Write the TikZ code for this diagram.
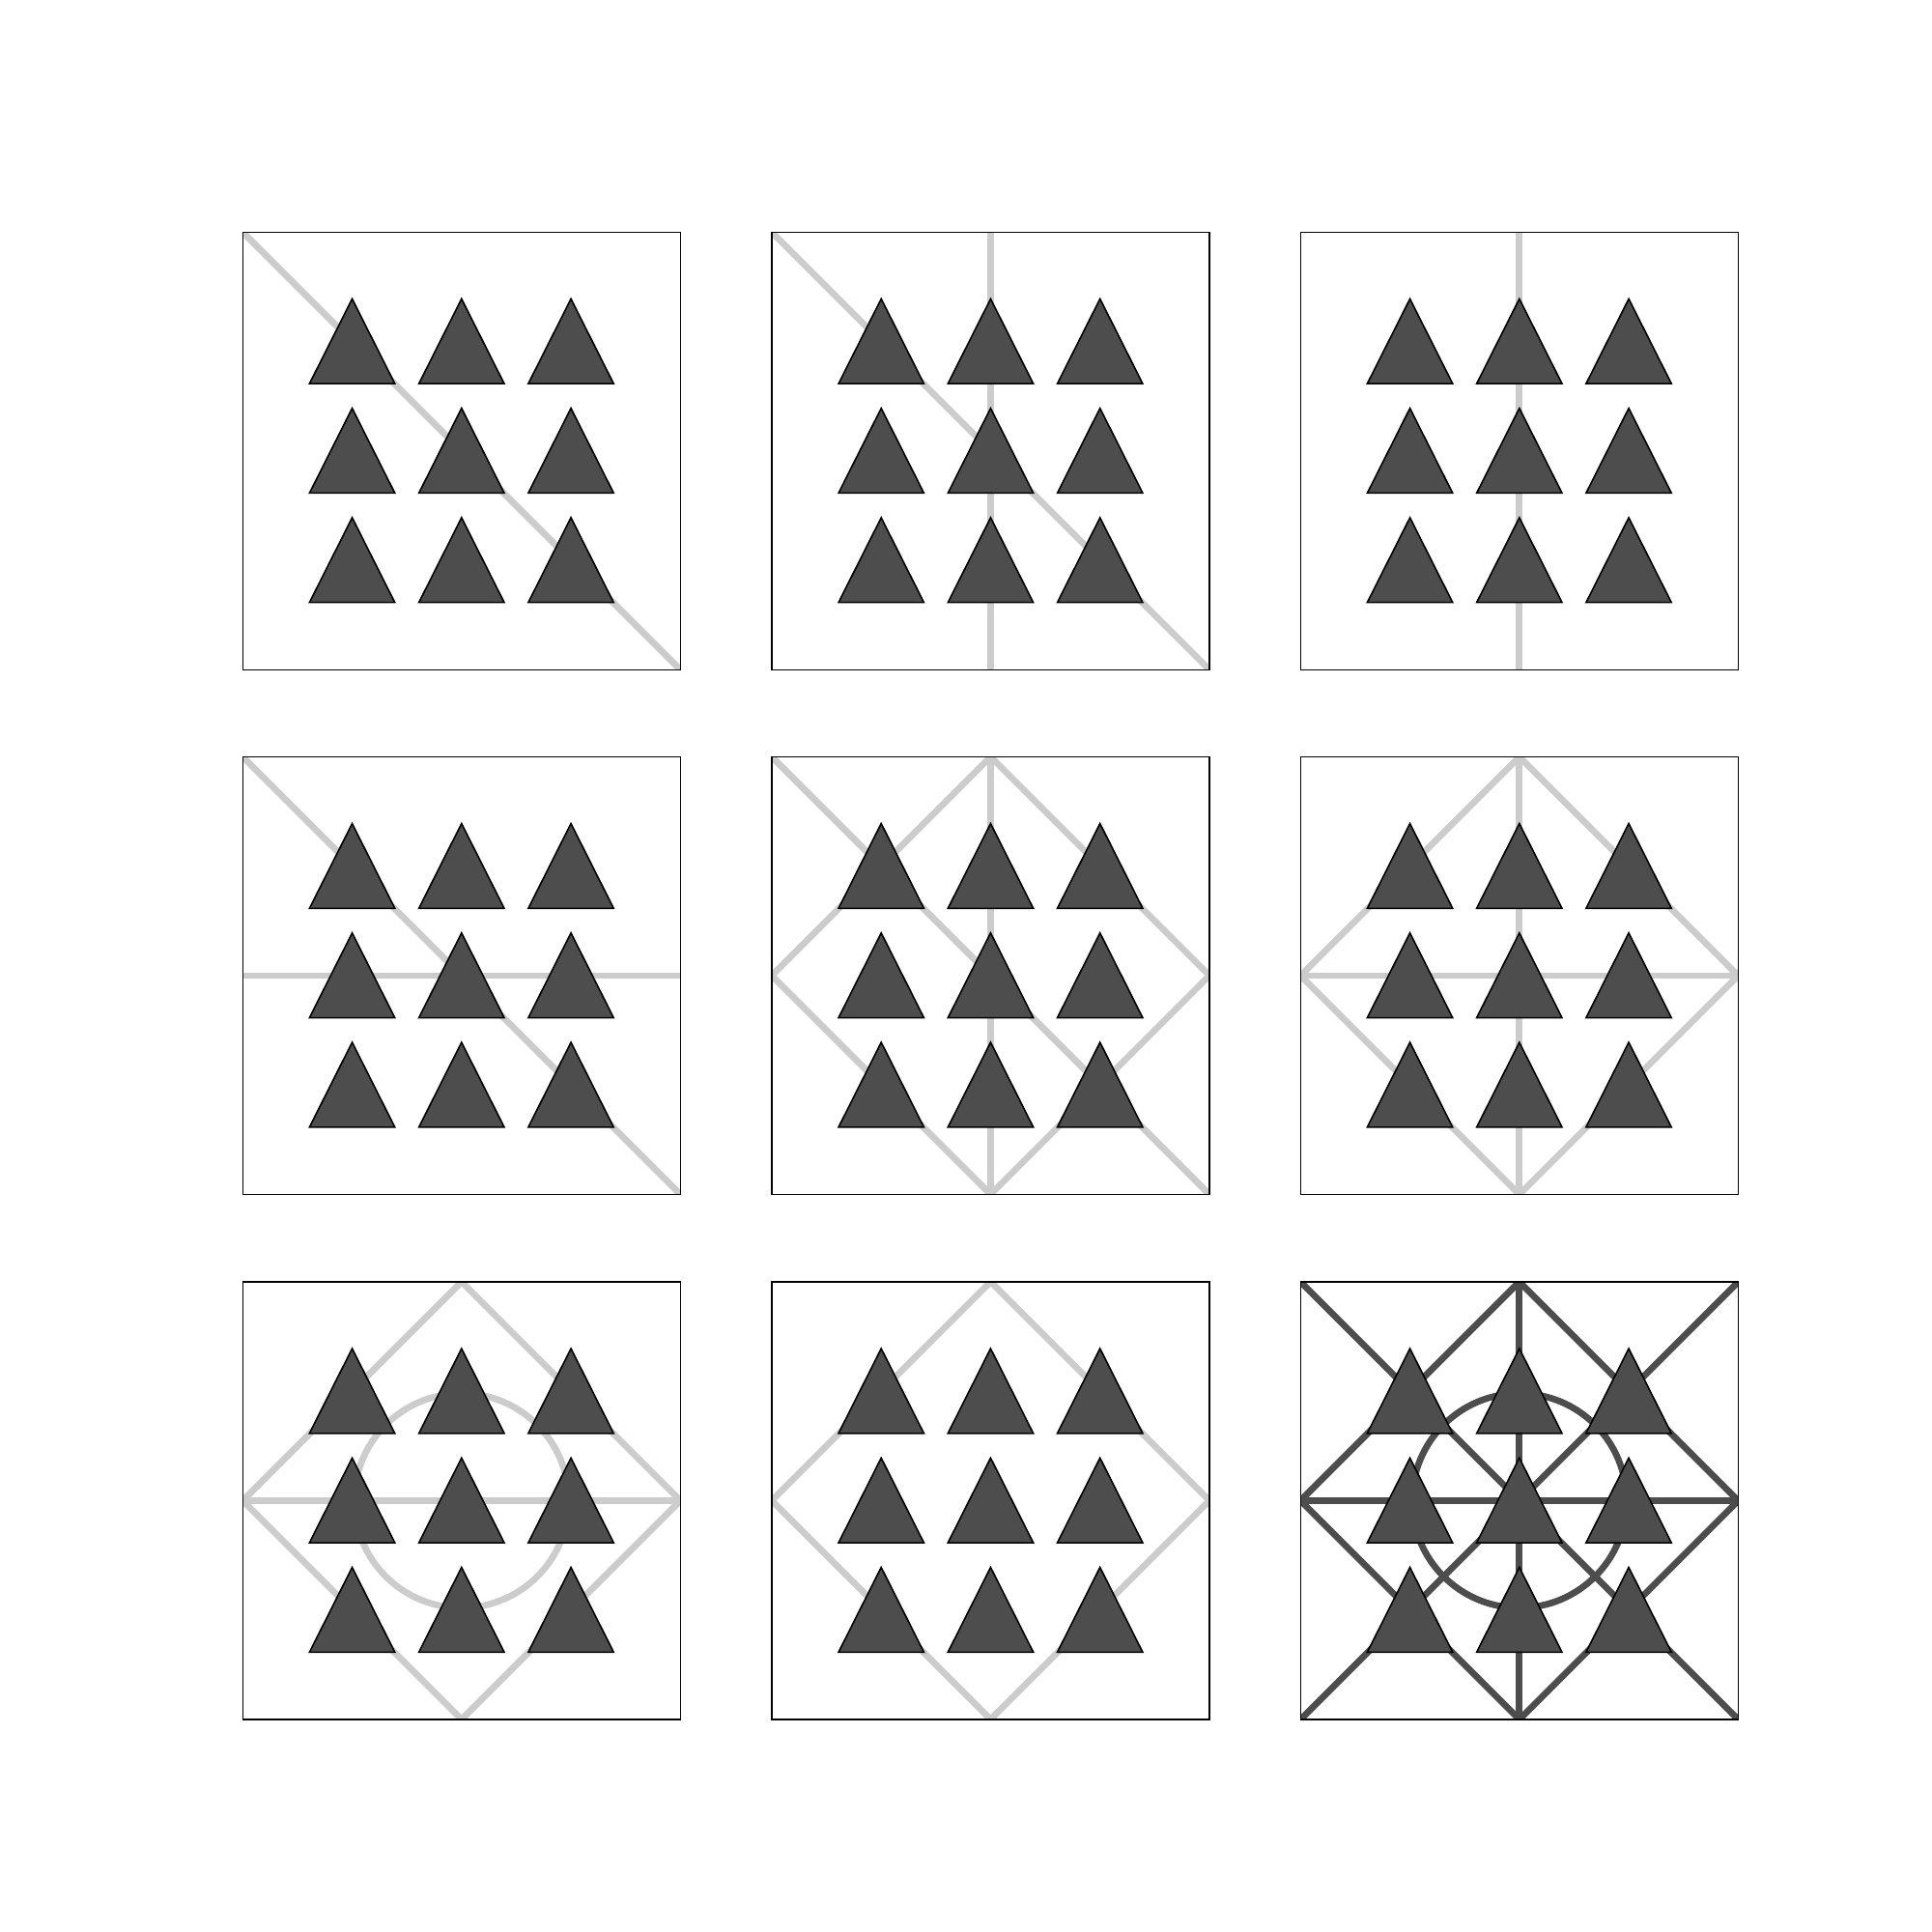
\documentclass[tikz,border=0pt]{standalone}
\usepackage{xcolor}
\definecolor{lightline}{HTML}{CCCCCC}
\definecolor{darkline}{HTML}{4D4D4D}
\tikzset{
  frame/.style={draw=black, line width=0.4pt},
  guide/.style={draw=lightline, line width=1.7pt},
  guidedark/.style={draw=darkline, line width=1.7pt},
  tri/.style={fill=darkline, draw=black, line width=0.4pt},
}
\begin{document}
\begin{tikzpicture}%
\useasboundingbox (0,0) rectangle (17.66,17.66);
% panel parts, local coordinates 0..4
\def\pdiag#1{\draw[#1] (0,4) -- (4,0);}
\def\panti#1{\draw[#1] (0,0) -- (4,4);}
\def\pvert#1{\draw[#1] (2,0) -- (2,4);}
\def\phoriz#1{\draw[#1] (0,2) -- (4,2);}
\def\pdiamond#1{\draw[#1] (2,0) -- (4,2) -- (2,4) -- (0,2) -- cycle;}
\def\pcircle#1{\draw[#1] (2,2) circle (0.98);}
\def\ptris{\foreach \i in {1,2,3} {\foreach \j in {1,2,3} {%
  \draw[tri] (\i-0.39,\j-0.385) -- (\i,\j+0.39) -- (\i+0.39,\j-0.385) -- cycle;}}}
\def\pframe{\draw[frame] (0,0) rectangle (4,4);}
% row 1
\begin{scope}[shift={(2.219,11.538)}]
 \begin{scope}\clip (0,0) rectangle (4,4);
  \pdiag{guide}
 \end{scope}
 \ptris \pframe
\end{scope}
\begin{scope}[shift={(7.055,11.538)}]
 \begin{scope}\clip (0,0) rectangle (4,4);
  \pdiag{guide} \pvert{guide}
 \end{scope}
 \ptris \pframe
\end{scope}
\begin{scope}[shift={(11.888,11.538)}]
 \begin{scope}\clip (0,0) rectangle (4,4);
  \pvert{guide}
 \end{scope}
 \ptris \pframe
\end{scope}
% row 2
\begin{scope}[shift={(2.219,6.742)}]
 \begin{scope}\clip (0,0) rectangle (4,4);
  \pdiag{guide} \phoriz{guide}
 \end{scope}
 \ptris \pframe
\end{scope}
\begin{scope}[shift={(7.055,6.742)}]
 \begin{scope}\clip (0,0) rectangle (4,4);
  \pdiag{guide} \pvert{guide} \pdiamond{guide}
 \end{scope}
 \ptris \pframe
\end{scope}
\begin{scope}[shift={(11.888,6.742)}]
 \begin{scope}\clip (0,0) rectangle (4,4);
  \pvert{guide} \phoriz{guide} \pdiamond{guide}
 \end{scope}
 \ptris \pframe
\end{scope}
% row 3
\begin{scope}[shift={(2.219,1.943)}]
 \begin{scope}\clip (0,0) rectangle (4,4);
  \pdiamond{guide} \phoriz{guide} \pcircle{guide}
 \end{scope}
 \ptris \pframe
\end{scope}
\begin{scope}[shift={(7.055,1.943)}]
 \begin{scope}\clip (0,0) rectangle (4,4);
  \pdiamond{guide}
 \end{scope}
 \ptris \pframe
\end{scope}
\begin{scope}[shift={(11.888,1.943)}]
 \begin{scope}\clip (0,0) rectangle (4,4);
  \pdiag{guidedark} \panti{guidedark} \pvert{guidedark}
  \phoriz{guidedark} \pdiamond{guidedark} \pcircle{guidedark}
 \end{scope}
 \ptris \pframe
\end{scope}
\end{tikzpicture}
\end{document}
